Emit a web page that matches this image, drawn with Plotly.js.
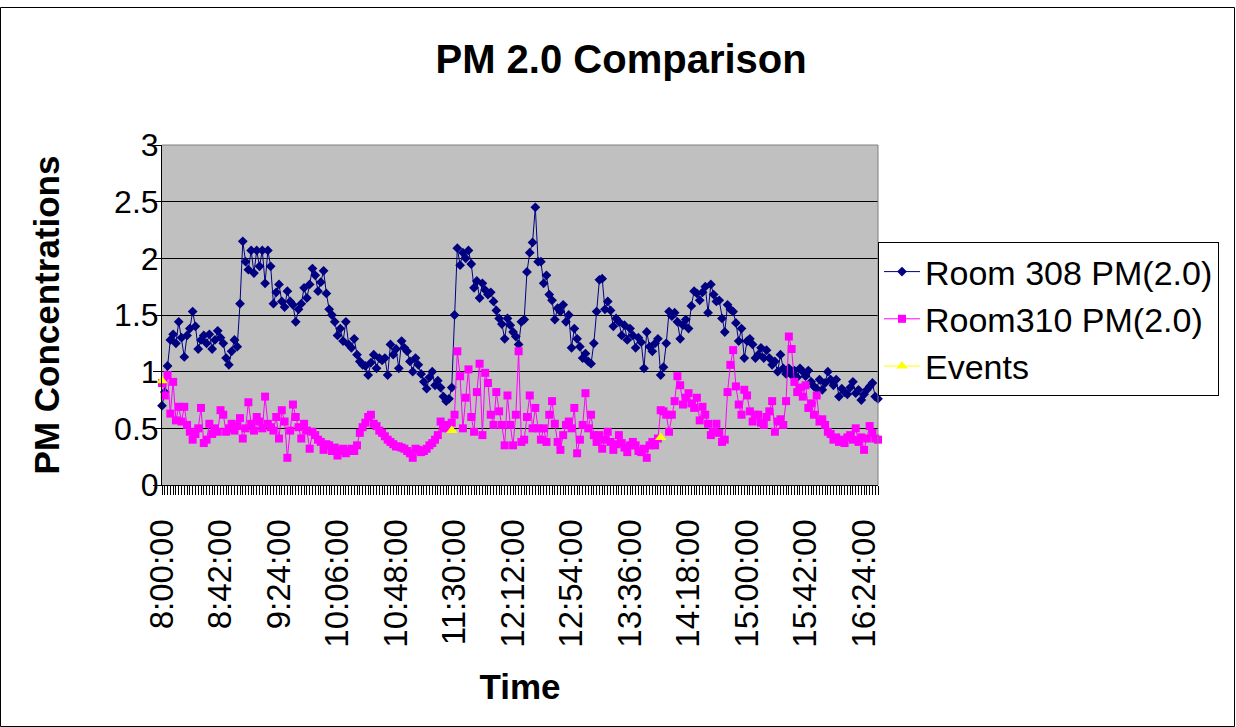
<!DOCTYPE html>
<html>
<head>
<meta charset="utf-8">
<script src="https://cdn.plot.ly/plotly-3.0.1.min.js"></script>
<style>
  html, body { margin: 0; padding: 0; background: #ffffff; }
  #chart { width: 1236px; height: 727px; }
</style>
</head>
<body>
<div id="chart"></div>
<script>
// Room 308 PM(2.0) readings, one every 2 minutes from 8:00:00
const room308 = [
  0.70,0.82,1.05,1.28,1.33,1.25,1.44,1.30,1.13,1.32,
  1.38,1.53,1.40,1.20,1.28,1.32,1.25,1.33,1.20,1.28,
  1.36,1.30,1.25,1.12,1.06,1.18,1.28,1.22,1.60,2.15,
  1.97,1.90,2.07,1.87,2.07,1.93,2.07,1.78,2.07,1.93,
  1.60,1.70,1.77,1.62,1.57,1.71,1.62,1.59,1.44,1.55,
  1.60,1.74,1.65,1.77,1.91,1.85,1.71,1.79,1.89,1.69,
  1.55,1.50,1.44,1.32,1.38,1.27,1.44,1.24,1.21,1.29,
  1.15,1.09,1.06,1.05,0.97,1.08,1.15,1.03,1.12,1.10,
  1.12,0.97,1.24,1.15,1.20,1.03,1.27,1.21,1.18,1.09,
  1.00,1.12,1.06,0.98,0.91,0.85,0.95,1.00,0.88,0.92,
  0.86,0.78,0.74,0.76,0.86,1.50,2.09,1.94,2.05,2.00,
  2.07,1.95,1.74,1.80,1.65,1.78,1.72,1.68,1.70,1.62,
  1.54,1.47,1.42,1.29,1.47,1.41,1.35,1.31,1.24,1.44,
  1.46,1.88,2.05,2.14,2.45,1.97,1.97,1.78,1.85,1.68,
  1.63,1.46,1.56,1.53,1.59,1.44,1.50,1.21,1.38,1.29,
  1.22,1.12,1.16,1.09,1.07,1.25,1.53,1.81,1.82,1.55,
  1.62,1.54,1.40,1.47,1.44,1.32,1.41,1.28,1.38,1.32,
  1.21,1.30,1.26,1.03,1.35,1.22,1.18,1.25,1.29,0.97,
  1.04,1.25,1.53,1.49,1.52,1.44,1.29,1.41,1.46,1.38,
  1.58,1.71,1.69,1.63,1.70,1.75,1.52,1.77,1.68,1.62,
  1.63,1.47,1.35,1.59,1.55,1.53,1.43,1.27,1.38,1.12,
  1.27,1.29,1.24,1.12,1.15,1.21,1.12,1.19,1.12,1.06,
  1.09,1.00,1.15,1.03,0.98,1.03,0.97,1.01,0.95,1.03,
  1.00,0.96,1.01,0.91,0.87,0.85,0.93,0.84,0.90,1.00,
  0.93,0.88,0.93,0.78,0.85,0.82,0.80,0.86,0.91,0.81,
  0.84,0.75,0.80,0.84,0.87,0.90,0.78,0.76
];

// Room310 PM(2.0) readings, same times
const room310 = [
  0.90,0.79,0.97,0.63,0.91,0.57,0.69,0.56,0.69,0.53,
  0.47,0.40,0.45,0.50,0.68,0.37,0.40,0.54,0.45,0.50,
  0.47,0.66,0.62,0.47,0.50,0.54,0.48,0.52,0.59,0.41,
  0.50,0.73,0.54,0.48,0.60,0.56,0.50,0.78,0.54,0.51,
  0.48,0.60,0.41,0.66,0.56,0.24,0.48,0.71,0.60,0.51,
  0.41,0.54,0.48,0.32,0.47,0.44,0.40,0.38,0.31,0.36,
  0.35,0.30,0.33,0.26,0.30,0.32,0.28,0.30,0.32,0.30,
  0.35,0.46,0.51,0.55,0.60,0.62,0.54,0.52,0.48,0.46,
  0.43,0.40,0.38,0.36,0.34,0.34,0.33,0.32,0.30,0.28,
  0.24,0.32,0.31,0.29,0.30,0.32,0.35,0.37,0.40,0.44,
  0.56,0.50,0.53,0.50,0.55,0.62,1.18,0.96,0.50,0.77,
  1.02,0.60,0.47,0.82,1.07,0.44,0.99,0.90,0.62,0.53,
  0.82,0.65,0.53,0.35,0.79,0.53,0.35,0.62,1.18,0.38,
  0.40,0.60,0.79,0.50,0.68,0.50,0.40,0.50,0.38,0.62,
  0.74,0.54,0.38,0.31,0.44,0.53,0.56,0.50,0.68,0.28,
  0.40,0.53,0.81,0.50,0.62,0.44,0.38,0.44,0.32,0.40,
  0.47,0.38,0.31,0.36,0.44,0.37,0.33,0.29,0.35,0.38,
  0.35,0.30,0.29,0.32,0.24,0.35,0.38,0.35,0.41,0.66,
  0.65,0.62,0.47,0.62,0.74,0.96,0.88,0.71,0.77,0.81,
  0.72,0.68,0.77,0.57,0.69,0.62,0.54,0.44,0.47,0.54,
  0.46,0.38,0.40,0.82,1.06,1.19,0.87,0.71,0.62,0.84,
  0.79,0.65,0.56,0.62,0.62,0.55,0.53,0.60,0.65,0.74,
  0.47,0.56,0.58,0.53,0.74,1.31,1.20,0.91,0.82,0.86,
  0.78,0.88,0.68,0.72,0.62,0.79,0.56,0.58,0.53,0.47,
  0.45,0.40,0.42,0.38,0.40,0.37,0.42,0.44,0.40,0.50,
  0.38,0.42,0.31,0.41,0.52,0.46,0.41,0.40
];

// Events: sample positions and values
const eventIndex = [0, 104, 179];
const eventValues = [0.92, 0.48, 0.42];

// Tick labels shown on the time axis
const tickLabels = ['8:00:00','8:42:00','9:24:00','10:06:00','10:48:00','11:30:00',
  '12:12:00','12:54:00','13:36:00','14:18:00','15:00:00','15:42:00','16:24:00'];

// category labels (time of each sample, 2-minute step from 8:00:00)
const times = room308.map((_, i) => {
  const m = 480 + 2 * i;
  return Math.floor(m / 60) + ':' + String(m % 60).padStart(2, '0') + ':00';
});
const events = times.map(() => null);
eventIndex.forEach((k, j) => { events[k] = eventValues[j]; });
const tickText = times.map(t => tickLabels.includes(t) ? t : '');

const FONT = 'Liberation Sans, Arial, sans-serif';
const L = 162, R = 878, T = 145, B = 485, W = 1236, H = 727;
const px = v => (v - L) / (R - L);
const py = v => (B - v) / (B - T);

const traces = [
  { x: times, y: room308, name: 'Room 308 PM(2.0)', type: 'scatter', mode: 'lines+markers',
    line: { color: '#000080', width: 1 },
    marker: { symbol: 'diamond', size: 7.5, color: '#000080' }, cliponaxis: false },
  { x: times, y: room310, name: 'Room310 PM(2.0)', type: 'scatter', mode: 'lines+markers',
    line: { color: '#FF00FF', width: 1 },
    marker: { symbol: 'square', size: 8, color: '#FF00FF' }, cliponaxis: false },
  { x: times, y: events, name: 'Events', type: 'scatter', mode: 'lines+markers',
    connectgaps: false,
    line: { color: '#FFFF00', width: 1 },
    marker: { symbol: 'triangle-up', size: 10, color: '#FFFF00' }, cliponaxis: false }
];

const layout = {
  width: W, height: H, autosize: false,
  margin: { l: L, r: W - R, t: T, b: H - B, pad: 0 },
  paper_bgcolor: '#ffffff', plot_bgcolor: '#C0C0C0',
  font: { family: FONT, color: '#000000', size: 33 },
  title: { text: '<b>PM 2.0 Comparison</b>', font: { family: FONT, size: 40, color: '#000' },
    x: 0.5025, xanchor: 'center', y: 1 - 59 / H, yanchor: 'middle' },
  xaxis: {
    type: 'category', range: [0, times.length - 1],
    tickmode: 'array', tickvals: times, ticktext: tickText,
    tickangle: -90, ticks: 'outside', ticklen: 9, tickwidth: 1, tickcolor: '#000',
    tickfont: { family: FONT, size: 33 }, ticklabelstandoff: 11,
    showgrid: false, showline: true, linecolor: '#000', linewidth: 1, zeroline: false,
    title: { text: '<b>Time</b>', font: { family: FONT, size: 35 }, standoff: 27 }
  },
  yaxis: {
    range: [0, 3], tick0: 0, dtick: 0.5,
    ticks: 'outside', ticklen: 8, tickwidth: 1, tickcolor: '#000',
    tickfont: { family: FONT, size: 32 }, ticklabelstandoff: -12,
    showgrid: true, gridcolor: '#000000', gridwidth: 1,
    showline: true, linecolor: '#000', linewidth: 1, zeroline: false,
    title: { text: '<b>PM Concentrations</b>', font: { family: FONT, size: 35 }, standoff: 43 }
  },
  legend: {
    x: 1.0, xanchor: 'left', y: py(242), yanchor: 'top',
    bgcolor: '#ffffff', bordercolor: '#000000', borderwidth: 1,
    font: { family: FONT, size: 34 }, tracegroupgap: 0, itemwidth: 36
  },
  showlegend: true,
  shapes: [
    { type: 'line', xref: 'paper', yref: 'paper', x0: 0, x1: 1, y0: 1, y1: 1,
      line: { color: '#808080', width: 1 }, layer: 'above' },
    { type: 'line', xref: 'paper', yref: 'paper', x0: 1, x1: 1, y0: 0, y1: 1,
      line: { color: '#808080', width: 1 }, layer: 'above' },
    { type: 'rect', xref: 'paper', yref: 'paper',
      x0: px(0.5), x1: px(1234.5), y0: py(726.5), y1: py(7.5),
      line: { color: '#000000', width: 1 }, fillcolor: 'rgba(0,0,0,0)', layer: 'above' }
  ]
};

Plotly.newPlot('chart', traces, layout, { displayModeBar: false, staticPlot: true });
</script>
</body>
</html>
